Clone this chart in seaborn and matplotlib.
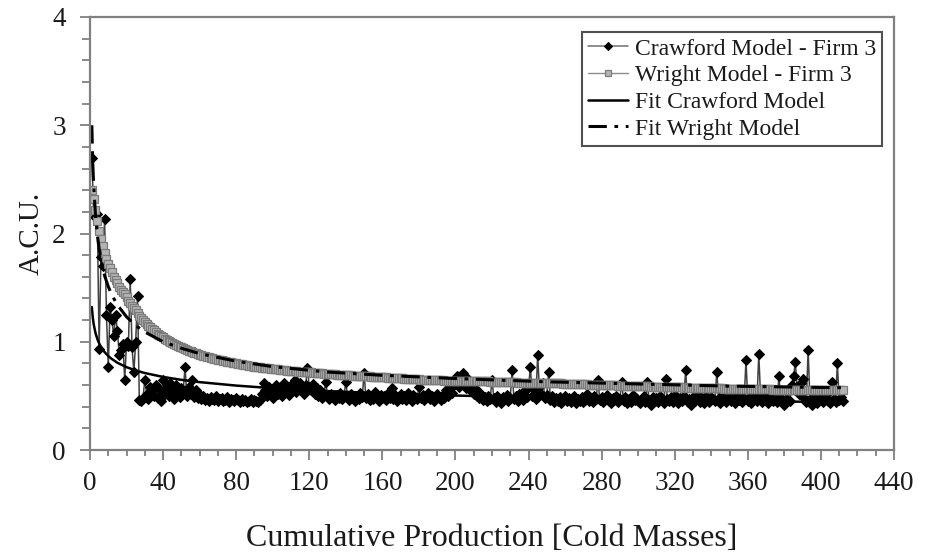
import numpy as np
import pandas as pd
import matplotlib
matplotlib.use("Agg")
import matplotlib.pyplot as plt
import seaborn as sns
from matplotlib.ticker import MultipleLocator

# Unit cost per cold mass (Crawford model, Firm 3), units 1..412
crawford_acu = [
    2.70, 2.20, 2.15, 2.18, 0.93, 1.78, 1.70, 2.13, 1.25, 0.77,
    1.32, 1.20, 1.05, 1.25, 1.10, 0.88, 0.92, 0.98, 0.65, 1.00,
    0.96, 1.58, 0.95, 0.72, 1.00, 1.42, 0.46, 0.45, 0.48, 0.65,
    0.52, 0.47, 0.58, 0.55, 0.50, 0.60, 0.48, 0.56, 0.45, 0.65,
    0.52, 0.58, 0.50, 0.62, 0.55, 0.47, 0.60, 0.53, 0.49, 0.57,
    0.54, 0.77, 0.50, 0.58, 0.52, 0.65, 0.49, 0.55, 0.48, 0.51,
    0.47, 0.50, 0.46, 0.48, 0.45, 0.49, 0.47, 0.46, 0.50, 0.45,
    0.47, 0.48, 0.45, 0.46, 0.49, 0.44, 0.47, 0.46, 0.45, 0.48,
    0.46, 0.44, 0.47, 0.45, 0.46, 0.44, 0.45, 0.47, 0.44, 0.46,
    0.45, 0.44, 0.46, 0.52, 0.62, 0.55, 0.50, 0.58, 0.53, 0.48,
    0.56, 0.60, 0.52, 0.57, 0.50, 0.62, 0.55, 0.58, 0.51, 0.60,
    0.57, 0.65, 0.54, 0.59, 0.62, 0.56, 0.52, 0.60, 0.76, 0.58,
    0.55, 0.61, 0.52, 0.57, 0.50, 0.55, 0.48, 0.52, 0.63, 0.50,
    0.47, 0.52, 0.49, 0.46, 0.51, 0.48, 0.53, 0.47, 0.50, 0.63,
    0.49, 0.46, 0.52, 0.48, 0.45, 0.50, 0.47, 0.53, 0.49, 0.71,
    0.48, 0.52, 0.46, 0.50, 0.47, 0.54, 0.49, 0.45, 0.51, 0.48,
    0.50, 0.46, 0.53, 0.48, 0.57, 0.47, 0.51, 0.45, 0.49, 0.52,
    0.47, 0.50, 0.46, 0.53, 0.48, 0.45, 0.51, 0.49, 0.47, 0.58,
    0.48, 0.51, 0.46, 0.49, 0.53, 0.47, 0.50, 0.45, 0.48, 0.52,
    0.49, 0.46, 0.51, 0.48, 0.55, 0.50, 0.58, 0.53, 0.60, 0.62,
    0.68, 0.58, 0.64, 0.71, 0.62, 0.57, 0.66, 0.55, 0.60, 0.52,
    0.56, 0.50, 0.48, 0.52, 0.46, 0.49, 0.45, 0.50, 0.47, 0.65,
    0.48, 0.44, 0.50, 0.46, 0.43, 0.49, 0.47, 0.51, 0.45, 0.48,
    0.74, 0.47, 0.50, 0.45, 0.52, 0.48, 0.46, 0.55, 0.49, 0.58,
    0.77, 0.50, 0.56, 0.47, 0.88, 0.53, 0.60, 0.62, 0.48, 0.51,
    0.72, 0.46, 0.50, 0.44, 0.48, 0.45, 0.49, 0.43, 0.47, 0.50,
    0.45, 0.48, 0.44, 0.46, 0.50, 0.43, 0.47, 0.45, 0.49, 0.44,
    0.46, 0.52, 0.45, 0.48, 0.44, 0.50, 0.47, 0.65, 0.46, 0.49,
    0.44, 0.47, 0.51, 0.45, 0.43, 0.48, 0.46, 0.50, 0.44, 0.47,
    0.63, 0.45, 0.49, 0.43, 0.47, 0.44, 0.51, 0.46, 0.48, 0.45,
    0.43, 0.47, 0.50, 0.44, 0.63, 0.46, 0.42, 0.49, 0.45, 0.48,
    0.44, 0.50, 0.46, 0.43, 0.66, 0.47, 0.45, 0.49, 0.44, 0.51,
    0.46, 0.43, 0.48, 0.45, 0.50, 0.74, 0.44, 0.47, 0.42, 0.49,
    0.45, 0.48, 0.52, 0.44, 0.47, 0.43, 0.50, 0.46, 0.44, 0.49,
    0.47, 0.45, 0.72, 0.48, 0.43, 0.50, 0.46, 0.44, 0.52, 0.47,
    0.45, 0.49, 0.43, 0.48, 0.46, 0.51, 0.44, 0.47, 0.83, 0.45,
    0.49, 0.43, 0.47, 0.50, 0.45, 0.89, 0.48, 0.44, 0.52, 0.46,
    0.43, 0.49, 0.47, 0.45, 0.50, 0.44, 0.68, 0.48, 0.46, 0.42,
    0.47, 0.55, 0.45, 0.60, 0.68, 0.81, 0.58, 0.52, 0.62, 0.66,
    0.48, 0.44, 0.92, 0.47, 0.42, 0.50, 0.45, 0.43, 0.49, 0.46,
    0.44, 0.48, 0.51, 0.45, 0.43, 0.63, 0.47, 0.44, 0.80, 0.46,
    0.49, 0.45,
]

# Cumulative average cost (Wright model, Firm 3), units 1..412
wright_acu = [
    2.40, 2.32, 2.22, 2.12, 2.02, 1.95, 1.88, 1.82, 1.76, 1.72,
    1.68, 1.64, 1.60, 1.57, 1.54, 1.51, 1.48, 1.46, 1.44, 1.41,
    1.38, 1.36, 1.33, 1.31, 1.29, 1.27, 1.24, 1.22, 1.20, 1.18,
    1.165, 1.15, 1.135, 1.12, 1.105, 1.09, 1.075, 1.06, 1.05, 1.04,
    1.03, 1.02, 1.01, 1.00, 0.99, 0.98, 0.972, 0.964, 0.956, 0.948,
    0.94, 0.933, 0.926, 0.919, 0.912, 0.906, 0.900, 0.894, 0.888, 0.882,
    0.877, 0.872, 0.867, 0.862, 0.857, 0.852, 0.848, 0.844, 0.840, 0.836,
    0.832, 0.828, 0.824, 0.820, 0.816, 0.812, 0.809, 0.806, 0.803, 0.800,
    0.797, 0.794, 0.791, 0.788, 0.785, 0.782, 0.779, 0.776, 0.773, 0.770,
    0.768, 0.766, 0.764, 0.762, 0.760, 0.758, 0.756, 0.754, 0.752, 0.750,
    0.748, 0.746, 0.744, 0.742, 0.740, 0.738, 0.736, 0.734, 0.732, 0.730,
    0.729, 0.728, 0.726, 0.725, 0.724, 0.722, 0.721, 0.720, 0.719, 0.717,
    0.716, 0.714, 0.713, 0.711, 0.710, 0.708, 0.707, 0.705, 0.704, 0.702,
    0.701, 0.700, 0.699, 0.698, 0.697, 0.696, 0.695, 0.694, 0.693, 0.692,
    0.691, 0.690, 0.689, 0.688, 0.687, 0.686, 0.685, 0.684, 0.683, 0.682,
    0.681, 0.680, 0.679, 0.678, 0.677, 0.676, 0.675, 0.674, 0.673, 0.672,
    0.671, 0.670, 0.669, 0.668, 0.667, 0.666, 0.665, 0.664, 0.663, 0.662,
    0.661, 0.660, 0.659, 0.658, 0.657, 0.656, 0.655, 0.654, 0.653, 0.652,
    0.651, 0.650, 0.650, 0.649, 0.648, 0.648, 0.647, 0.646, 0.646, 0.645,
    0.644, 0.644, 0.643, 0.642, 0.642, 0.641, 0.641, 0.640, 0.640, 0.640,
    0.640, 0.640, 0.640, 0.640, 0.640, 0.639, 0.639, 0.638, 0.638, 0.637,
    0.637, 0.636, 0.636, 0.635, 0.635, 0.634, 0.633, 0.633, 0.632, 0.632,
    0.631, 0.630, 0.630, 0.629, 0.628, 0.628, 0.627, 0.626, 0.626, 0.625,
    0.625, 0.624, 0.624, 0.623, 0.623, 0.622, 0.622, 0.621, 0.621, 0.621,
    0.621, 0.621, 0.620, 0.620, 0.621, 0.621, 0.620, 0.620, 0.620, 0.619,
    0.619, 0.619, 0.618, 0.618, 0.617, 0.616, 0.616, 0.615, 0.614, 0.614,
    0.613, 0.612, 0.612, 0.611, 0.610, 0.610, 0.609, 0.608, 0.608, 0.607,
    0.606, 0.606, 0.605, 0.604, 0.604, 0.603, 0.602, 0.602, 0.602, 0.601,
    0.600, 0.600, 0.599, 0.598, 0.598, 0.597, 0.596, 0.596, 0.595, 0.595,
    0.595, 0.594, 0.593, 0.593, 0.592, 0.592, 0.591, 0.590, 0.590, 0.589,
    0.589, 0.588, 0.588, 0.587, 0.587, 0.587, 0.586, 0.585, 0.585, 0.584,
    0.584, 0.583, 0.583, 0.582, 0.582, 0.582, 0.581, 0.581, 0.580, 0.580,
    0.579, 0.579, 0.578, 0.578, 0.577, 0.578, 0.577, 0.577, 0.576, 0.576,
    0.575, 0.575, 0.574, 0.574, 0.573, 0.573, 0.572, 0.572, 0.571, 0.571,
    0.570, 0.570, 0.570, 0.570, 0.569, 0.569, 0.568, 0.568, 0.567, 0.567,
    0.566, 0.566, 0.565, 0.565, 0.564, 0.564, 0.563, 0.563, 0.564, 0.564,
    0.563, 0.563, 0.562, 0.562, 0.561, 0.562, 0.562, 0.561, 0.561, 0.560,
    0.560, 0.559, 0.559, 0.558, 0.558, 0.557, 0.558, 0.557, 0.557, 0.556,
    0.556, 0.556, 0.555, 0.555, 0.555, 0.556, 0.556, 0.556, 0.556, 0.556,
    0.555, 0.555, 0.556, 0.555, 0.555, 0.554, 0.554, 0.553, 0.553, 0.553,
    0.552, 0.552, 0.552, 0.551, 0.551, 0.551, 0.551, 0.550, 0.551, 0.551,
    0.550, 0.550,
]

units = list(range(1, len(crawford_acu) + 1))

# Fitted learning curves, sampled along cumulative production
fit_units = [1, 1.5, 2, 3, 4, 5, 6, 8, 10, 12, 15, 20, 25, 30, 40, 50,
             60, 80, 100, 130, 160, 200, 250, 300, 350, 412]
fit_crawford = [1.32, 1.227, 1.164, 1.081, 1.026, 0.985, 0.953, 0.904,
                0.868, 0.840, 0.806, 0.765, 0.735, 0.711, 0.675, 0.648,
                0.627, 0.595, 0.571, 0.544, 0.524, 0.503, 0.483, 0.467,
                0.455, 0.441]
fit_wright = [3.00, 2.65, 2.45, 2.17, 1.99, 1.86, 1.76, 1.61, 1.51, 1.43,
              1.34, 1.23, 1.15, 1.09, 1.00, 0.94, 0.89, 0.82, 0.77, 0.72,
              0.69, 0.66, 0.63, 0.61, 0.59, 0.575]

x_ticks = list(range(0, 441, 40))
y_ticks = [0, 1, 2, 3, 4]

data = pd.DataFrame({"unit": units, "crawford": crawford_acu, "wright": wright_acu})
fits = pd.DataFrame({"unit": fit_units, "crawford": fit_crawford, "wright": fit_wright})

sns.set_style("ticks")
plt.rcParams["font.family"] = ["Liberation Serif", "DejaVu Serif"]

fig = plt.figure(figsize=(9.26, 5.55), dpi=100)
ax = fig.add_axes([90 / 926, 1 - 450 / 555, (894 - 90) / 926, (450 - 17) / 555])

sns.lineplot(data=data, x="unit", y="crawford", ax=ax, estimator=None, sort=False,
             color="#404040", linewidth=1.1, marker="D", markersize=5.2,
             markerfacecolor="black", markeredgecolor="black",
             label="Crawford Model - Firm 3")
sns.lineplot(data=data, x="unit", y="wright", ax=ax, estimator=None, sort=False,
             color="#8c8c8c", linewidth=1.0, marker="s", markersize=5.4,
             markerfacecolor="#b4b4b4", markeredgecolor="#7c7c7c", markeredgewidth=0.9,
             label="Wright Model - Firm 3")
sns.lineplot(data=fits, x="unit", y="crawford", ax=ax, estimator=None, sort=False,
             color="black", linewidth=1.8, label="Fit Crawford Model")
sns.lineplot(data=fits, x="unit", y="wright", ax=ax, estimator=None, sort=False,
             color="black", linewidth=2.2, dashes=False, label="Fit Wright Model")
ax.get_lines()[-1].set_dashes([6, 2.5, 1.2, 2.5])

ax.set_xlim(0, 440)
ax.set_ylim(0, 4)
ax.set_xticks(x_ticks)
ax.set_yticks(y_ticks)
ax.xaxis.set_minor_locator(MultipleLocator(10))
ax.yaxis.set_minor_locator(MultipleLocator(0.2))

spine_col = "#808080"
for s in ax.spines.values():
    s.set_visible(True)
    s.set_color(spine_col)
    s.set_linewidth(1.6)

ax.tick_params(axis="both", which="both", direction="out", color=spine_col,
               width=1.3, labelsize=19.5, labelcolor="#1a1a1a")
ax.tick_params(axis="y", which="major", length=7.5, pad=10)
ax.tick_params(axis="y", which="minor", length=5.5)
ax.tick_params(axis="x", which="major", length=7, pad=8)
ax.tick_params(axis="x", which="minor", length=4)

ax.set_xlabel("Cumulative Production [Cold Masses]", fontsize=23, color="#1a1a1a", labelpad=20)
ax.set_ylabel("A.C.U.", fontsize=21, color="#1a1a1a", labelpad=5)

leg = ax.legend(loc="upper right", bbox_to_anchor=(0.985, 0.965), borderaxespad=0,
                fontsize=17, frameon=True, fancybox=False, shadow=False,
                handlelength=1.7, handletextpad=0.3, labelspacing=0.22,
                borderpad=0.25, markerscale=0.8)
leg.get_frame().set_edgecolor("#505050")
leg.get_frame().set_linewidth(1.5)
leg.get_frame().set_alpha(1)
for t in leg.get_texts():
    t.set_color("#1a1a1a")
hl = leg.legend_handles
hl[0].set_color("#707070")
hl[0].set_markerfacecolor("black")
hl[0].set_markeredgecolor("black")

fig.savefig("out.png", dpi=100)
